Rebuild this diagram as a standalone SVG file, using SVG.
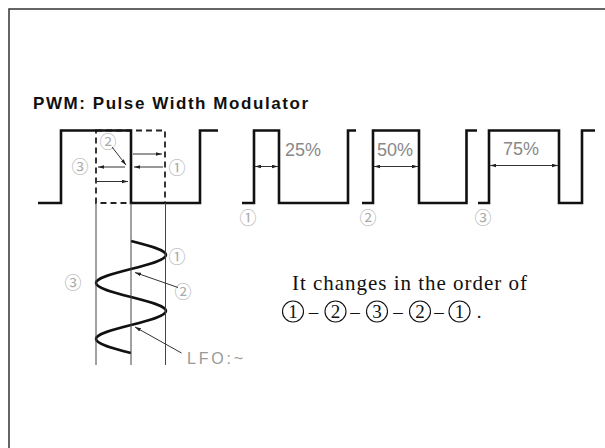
<svg xmlns="http://www.w3.org/2000/svg" width="605" height="448" viewBox="0 0 605 448">
<defs>
<marker id="ah" viewBox="0 0 10 6" refX="10" refY="3" markerWidth="6" markerHeight="4" markerUnits="userSpaceOnUse" orient="auto-start-reverse"><path d="M0,0 L10,3 L0,6 z" fill="#222"/></marker>
</defs>
<style>
.wave{fill:none;stroke:#111;stroke-width:2.6;stroke-linejoin:miter}
.dash{fill:none;stroke:#222;stroke-width:1.8;stroke-dasharray:6 4}
.thin{fill:none;stroke:#444;stroke-width:1}
.arr{stroke:#333;stroke-width:1;fill:none;marker-end:url(#ah)}
.dim{stroke:#333;stroke-width:1;fill:none;marker-start:url(#ah);marker-end:url(#ah)}
.lbl{font-family:"Noto Sans CJK JP",sans-serif;font-size:17px;fill:#aaa;text-anchor:middle}
.pct{font-family:"Liberation Sans",sans-serif;font-size:18px;fill:#888}
.ring{fill:none;stroke:#111;stroke-width:1.1}
.seq{font-family:"Liberation Serif",serif;font-size:19px;fill:#111;text-anchor:middle}
</style>
<path id="frame" d="M9,448 V9 H605" fill="none" stroke="#333" stroke-width="1.5"/>
<text id="title" x="33" y="109" font-family="Liberation Sans, sans-serif" font-weight="bold" font-size="17" textLength="275" lengthAdjust="spacing" fill="#111">PWM: Pulse Width Modulator</text>
<g id="left-wave">
<rect class="dash" x="96" y="130.5" width="69" height="72.5"/>
<path class="wave" d="M38,203 H61 V130.5 H131 V203 H200 V130.5 H218"/>
<text class="lbl" x="108" y="148">②</text>
<text class="lbl" x="80" y="173">③</text>
<text class="lbl" x="177" y="174">①</text>
</g>
<g id="lfo">
<path class="wave" d="M131,241 C148.93,245.57 166,249.93 166,255 C166,260.07 148.93,264.43 131,269 C113.07,273.57 96,277.93 96,283 C96,288.07 113.07,292.43 131,297 C148.93,301.57 166,305.93 166,311 C166,316.07 148.93,320.43 131,325 C113.07,329.57 96,333.93 96,339 C96,344.07 113.07,348.43 131,353"/>
<text class="lbl" x="177" y="263">①</text>
<text class="lbl" x="183" y="297.5">②</text>
<text class="lbl" x="73" y="289">③</text>
<text x="187" y="364" font-family="Liberation Sans, sans-serif" font-size="16" fill="#999" textLength="56" lengthAdjust="spacing">LFO:~</text>
</g>
<g id="wave-25">
<path class="wave" d="M242,203 H254 V130.5 H279 V203 H348 V130.5 H356"/>
<text class="pct" x="285" y="156">25%</text>
<text class="lbl" x="248" y="224">①</text>
</g>
<g id="wave-50">
<path class="wave" d="M362,203 H373 V130.5 H419 V203 H466.5 V130.5 H477"/>
<text class="pct" x="377" y="156">50%</text>
<text class="lbl" x="368" y="224">②</text>
</g>
<g id="wave-75">
<path class="wave" d="M478,203 H489 V130.5 H559 V203 H582 V130.5 H595"/>
<text class="pct" x="503" y="155">75%</text>
<text class="lbl" x="483" y="224">③</text>
</g>
<g id="connectors">
<path class="thin" d="M96,203 V365 M131,203 V365 M165.5,203 V365"/>
<path class="arr" d="M133,154 H162"/>
<path class="arr" d="M163,167 H134"/>
<path class="arr" d="M125,167 H98"/>
<path class="arr" d="M97,181.5 H128"/>
<path class="arr" d="M112,147 L126,165"/>
<path class="arr" d="M178,287.5 L135,272.5"/>
<path class="arr" d="M181.5,353 L135,327"/>
<path class="dim" d="M255,166.5 H278"/>
<path class="dim" d="M374,166.5 H418"/>
<path class="dim" d="M490,165.5 H558"/>
</g>
<g id="note">
<text x="292" y="290" font-family="Liberation Serif, serif" font-size="21" fill="#111" textLength="235" lengthAdjust="spacing">It changes in the order of</text>
<circle class="ring" cx="293" cy="311.5" r="10.5"/>
<circle class="ring" cx="335.5" cy="311.5" r="10.5"/>
<circle class="ring" cx="377" cy="311.5" r="10.5"/>
<circle class="ring" cx="420" cy="311.5" r="10.5"/>
<circle class="ring" cx="459.5" cy="311.5" r="10.5"/>
<text class="seq" y="318"><tspan x="293">1</tspan><tspan x="313.5">–</tspan><tspan x="335.5">2</tspan><tspan x="355">–</tspan><tspan x="377">3</tspan><tspan x="398">–</tspan><tspan x="420">2</tspan><tspan x="439">–</tspan><tspan x="459.5">1</tspan><tspan x="479">.</tspan></text>
</g>
</svg>
